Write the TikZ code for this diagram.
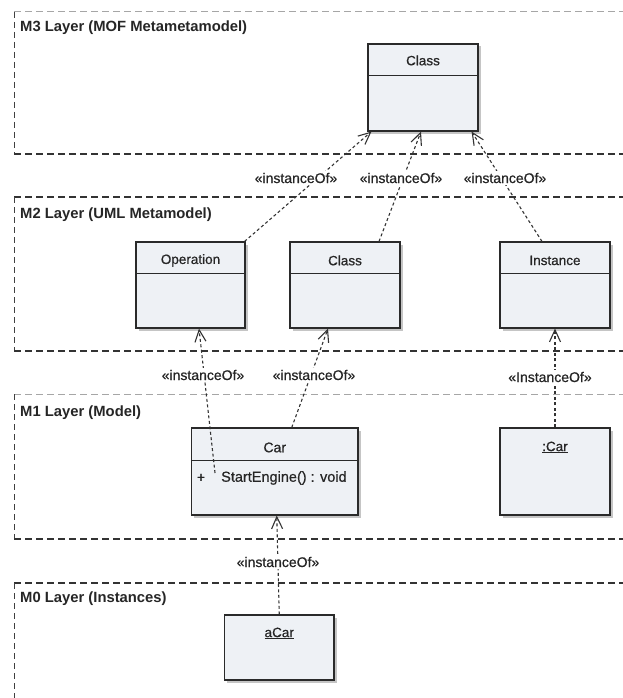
\documentclass[tikz,border=0pt]{standalone}
\usepackage{fontspec}
\setmainfont{Liberation Sans}
\newfontfamily\heavyish[FakeBold=0.6]{Liberation Sans}
\usetikzlibrary{arrows.meta,shadows}
\definecolor{boxfill}{HTML}{EEF1F5}
\definecolor{boxedge}{HTML}{2A2A2A}
\definecolor{linkc}{HTML}{333333}
\definecolor{inkc}{HTML}{262626}
\begin{document}
\begin{tikzpicture}[x=1pt,y=-1pt,
  umlbox/.style={draw=boxedge, line width=1.1pt, fill=boxfill, inner sep=0pt,
    drop shadow={shadow xshift=2.5pt, shadow yshift=-2.5pt, fill=black!50, opacity=0.45}},
  divider/.style={draw=boxedge, line width=1.1pt},
  boxtext/.style={font=\heavyish\fontsize{13.5}{16}\selectfont, text=inkc, inner sep=0pt},
  layertitle/.style={font=\bfseries\fontsize{14.8}{17}\selectfont, text=inkc, anchor=west, inner sep=0pt},
  stereo/.style={font=\heavyish\fontsize{14}{16}\selectfont, text=inkc, fill=white, inner sep=1.5pt},
  instof/.style={draw=linkc, line width=1.1pt, dash pattern=on 3pt off 2.5pt,
    -{Straight Barb[length=12pt,width=11pt]}},
  frameheavy/.style={draw=black!80, line width=1.3pt, dash pattern=on 7pt off 4pt},
  framelight/.style={draw=black!35, line width=1pt, dash pattern=on 7pt off 4pt},
  frameside/.style={draw=black!75, line width=0.8pt, dash pattern=on 6pt off 4pt},
]
\useasboundingbox (0,0) rectangle (623,698);
\fill[white] (0,0) rectangle (623,698);

% ---- layer frames (open to the right) ----
\begin{scope}
\clip (0,0) rectangle (623,698);
% M3
\draw[framelight] (14,12) -- (640,12);
\draw[frameside]  (14,12) -- (14,154);
\draw[frameheavy] (14,154) -- (640,154);
% M2
\draw[frameheavy] (14,197) -- (640,197);
\draw[frameside]  (14,197) -- (14,351);
\draw[frameheavy] (14,351) -- (640,351);
% M1
\draw[framelight] (14,394) -- (640,394);
\draw[frameside]  (14,394) -- (14,539);
\draw[frameheavy] (14,539) -- (640,539);
% M0
\draw[frameheavy] (14,583) -- (640,583);
\draw[frameside]  (14,583) -- (14,710);
\end{scope}

\node[layertitle] (t3) at (20,27.5) {M3 Layer (MOF Metametamodel)};
\node[layertitle] (t2) at (20,215)  {M2 Layer (UML Metamodel)};
\node[layertitle] (t1) at (20,413)  {M1 Layer (Model)};
\node[layertitle] (t0) at (20,599)  {M0 Layer (Instances)};

% ---- M3 ----
\node[umlbox, minimum width=110pt, minimum height=87pt] (cls3) at (423,87.5) {};
\draw[divider] ([yshift=-32pt]cls3.north west) -- ([yshift=-32pt]cls3.north east);
\node[boxtext] (cls3name) at ([yshift=-17pt]cls3.north) {Class};

% ---- M2 ----
\node[umlbox, minimum width=109pt, minimum height=86pt] (op) at (190.5,285) {};
\draw[divider] ([yshift=-32pt]op.north west) -- ([yshift=-32pt]op.north east);
\node[boxtext] (opname) at ([yshift=-19pt]op.north) {Operation};

\node[umlbox, minimum width=110pt, minimum height=86pt] (cls2) at (345,285) {};
\draw[divider] ([yshift=-32pt]cls2.north west) -- ([yshift=-32pt]cls2.north east);
\node[boxtext] (cls2name) at ([yshift=-19pt]cls2.north) {Class};

\node[umlbox, minimum width=110pt, minimum height=86pt] (inst) at (555,285) {};
\draw[divider] ([yshift=-32pt]inst.north west) -- ([yshift=-32pt]inst.north east);
\node[boxtext] (instname) at ([yshift=-19pt]inst.north) {Instance};

% ---- M1 ----
\node[umlbox, minimum width=166.5pt, minimum height=87pt] (car) at (274.75,471.5) {};
\draw[divider] ([yshift=-33pt]car.north west) -- ([yshift=-33pt]car.north east);
\node[boxtext, font=\heavyish\fontsize{14}{16}\selectfont] (carname) at ([yshift=-20pt]car.north) {Car};
\node[boxtext, font=\heavyish\fontsize{14}{16}\selectfont] (plus) at (201,478) {+};
\node[boxtext, font=\heavyish\fontsize{14.5}{17}\selectfont, anchor=west] (opsig) at (221,478) {StartEngine() : void};
\coordinate (sigstart) at (215,473);

\node[umlbox, minimum width=110pt, minimum height=87pt] (ocar) at (555,471.5) {};
\node[boxtext] (ocarname) at ([yshift=-20pt]ocar.north) {\underline{:Car}};

% ---- M0 ----
\node[umlbox, minimum width=109.5pt, minimum height=65pt] (acar) at (279.25,647.5) {};
\node[boxtext] (acarname) at ([yshift=-19pt]acar.north) {\underline{aCar}};

% ---- instanceOf dependencies ----
\draw[instof] ([xshift=-1pt]op.north east) -- ([xshift=4pt]cls3.south west);
\draw[instof] ([xshift=34pt]cls2.north) -- ([xshift=-2pt]cls3.south);
\draw[instof] ([xshift=-13pt]inst.north) -- ([xshift=-7pt]cls3.south east);
\draw[instof] (sigstart) -- ([xshift=8.5pt]op.south);
\draw[instof] ([xshift=17pt]car.north) -- ([xshift=-17pt]cls2.south);
\draw[instof] (ocar.north) -- (inst.south);
\draw[instof] (acar.north) -- ([xshift=2pt]car.south);

\node[stereo] (s1) at (296,178) {«instanceOf»};
\node[stereo] (s2) at (401,178) {«instanceOf»};
\node[stereo] (s3) at (505,178) {«instanceOf»};
\node[stereo] (s4) at (203,375) {«instanceOf»};
\node[stereo] (s5) at (314,375) {«instanceOf»};
\node[stereo] (s6) at (550,377) {«InstanceOf»};
\node[stereo] (s7) at (278,562) {«instanceOf»};
\end{tikzpicture}
\end{document}
